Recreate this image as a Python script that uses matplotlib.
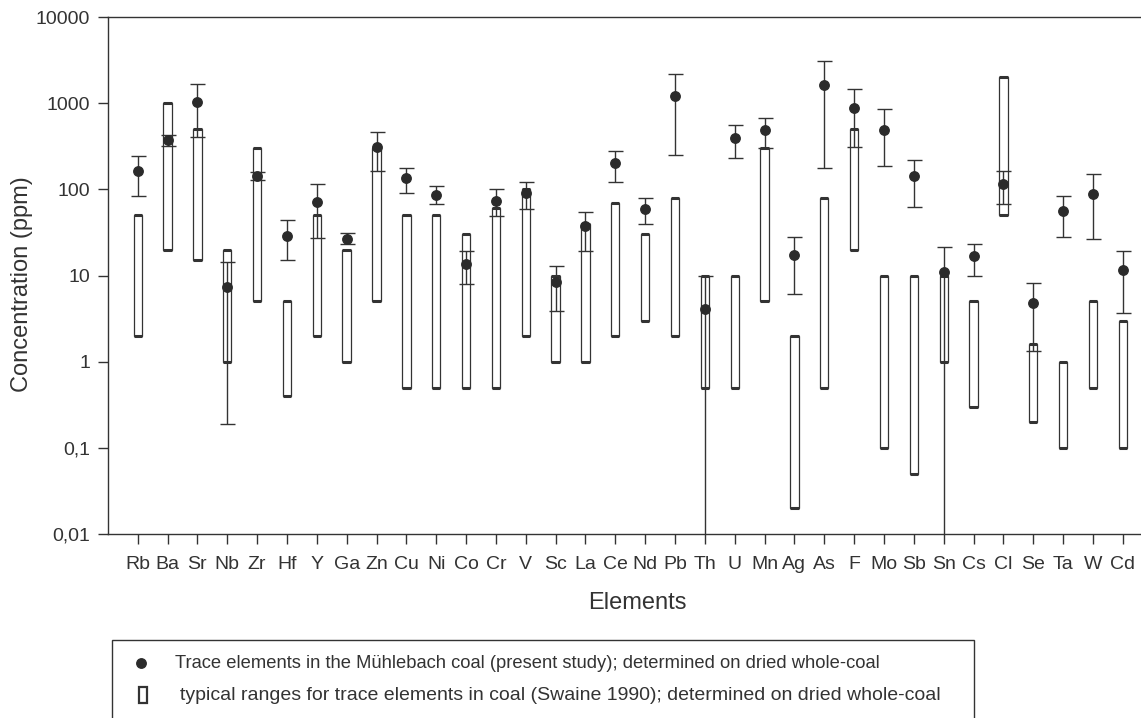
import numpy as np
import matplotlib
matplotlib.use("Agg")
import matplotlib.pyplot as plt
from matplotlib.patches import Rectangle
from matplotlib.lines import Line2D

plt.rcParams['font.family'] = ['Liberation Sans', 'DejaVu Sans']

INK = '#333333'
W, H = 1141, 718

elements = ['Rb', 'Ba', 'Sr', 'Nb', 'Zr', 'Hf', 'Y', 'Ga', 'Zn', 'Cu', 'Ni', 'Co',
            'Cr', 'V', 'Sc', 'La', 'Ce', 'Nd', 'Pb', 'Th', 'U', 'Mn', 'Ag', 'As',
            'F', 'Mo', 'Sb', 'Sn', 'Cs', 'Cl', 'Se', 'Ta', 'W', 'Cd']

# Muehlebach coal (dots) with error range
coal_mean = [163, 374, 1040, 7.4, 144, 29, 71, 26.8, 313, 134, 87, 13.6,
             74, 91, 8.5, 37.5, 204, 59, 1200, 4.1, 398, 489, 17.1, 1640,
             887, 492, 142, 11.1, 16.7, 114, 4.75, 55.6, 89, 11.6]
coal_hi = [244, 427, 1670, 14.5, 160, 44, 116, 31, 467, 178, 109, 19.2,
           100, 122, 12.9, 54.5, 281, 78.7, 2180, 10, 558, 667, 28.2, 3090,
           1460, 848, 219, 21.4, 23, 162, 8.1, 83, 151, 19.4]
coal_lo = [84, 318, 402, 0.19, 128, 15, 27, 23.4, 164, 91, 67, 8.0,
           48.6, 59, 3.9, 19.3, 122, 39.6, 252, 0.001, 233, 300, 6.05, 175,
           310, 187, 63, 0.001, 10, 68, 1.34, 28.2, 26.5, 3.7]

# typical ranges in coal (Swaine 1990)
swaine_lo = [2, 20, 15, 1, 5, 0.4, 2, 1, 5, 0.5, 0.5, 0.5,
             0.5, 2, 1, 1, 2, 3, 2, 0.5, 0.5, 5, 0.02, 0.5,
             20, 0.1, 0.05, 1, 0.3, 50, 0.2, 0.1, 0.5, 0.1]
swaine_hi = [50, 1000, 500, 20, 300, 5, 50, 20, 300, 50, 50, 30,
             60, 100, 10, 40, 70, 30, 80, 10, 10, 300, 2, 80,
             500, 10, 10, 10, 5, 2000, 1.6, 1, 5, 3]

yticks = [0.01, 0.1, 1, 10, 100, 1000, 10000]
ytick_labels = ['0,01', '0,1', '1', '10', '100', '1000', '10000']


def fx(px):
    return px / W


def fy(py):
    return 1 - py / H


x = np.arange(1, len(elements) + 1)
mean = np.array(coal_mean)
lo = np.array(coal_lo)
hi = np.array(coal_hi)
s_lo = np.array(swaine_lo)
s_hi = np.array(swaine_hi)

fig = plt.figure(figsize=(W / 100, H / 100), dpi=100)
ax = fig.add_axes([fx(108), fy(534), fx(1141) - fx(108), fy(17) - fy(534)])

bw = 0.28
ax.bar(x, s_hi - s_lo, bottom=s_lo, width=bw, color='white',
       edgecolor=INK, linewidth=0.9, zorder=2)
ax.hlines(s_hi, x - bw / 2, x + bw / 2, color=INK, linewidth=2.2, zorder=2)
ax.hlines(s_lo, x - bw / 2, x + bw / 2, color=INK, linewidth=2.2, zorder=2)

ax.errorbar(x, mean, yerr=[mean - lo, hi - mean], fmt='none', ecolor=INK,
            elinewidth=1.0, capsize=5.4, capthick=1.0, zorder=3)
ax.plot(x, mean, 'o', color='#2b2b2b', markersize=6.8, zorder=4)

ax.set_yscale('log')
ax.set_ylim(0.01, 10000)
ax.set_xlim(0.005, 34.61)
ax.set_yticks(yticks)
ax.set_yticklabels(ytick_labels)
ax.yaxis.set_minor_locator(matplotlib.ticker.NullLocator())
ax.set_xticks(x)
ax.set_xticklabels(elements)
ax.tick_params(axis='both', direction='out', length=7, width=1.0,
               color=INK, labelcolor=INK, labelsize=14, pad=6)
ax.tick_params(axis='x', pad=9)

for side in ['left', 'bottom', 'top']:
    ax.spines[side].set_color(INK)
    ax.spines[side].set_linewidth(1.0)
ax.spines['right'].set_visible(False)

fig.text(fx(637), fy(603), 'Elements', ha='center', va='center',
         fontsize=17, color=INK)
fig.text(fx(22), fy(284), 'Concentration (ppm)', ha='center', va='center',
         rotation=90, fontsize=17, color=INK)

# legend box, cut by the lower edge of the picture
fig.add_artist(Rectangle((fx(112), fy(760)), fx(974) - fx(112), fy(640) - fy(760),
                         transform=fig.transFigure, facecolor='none',
                         edgecolor=INK, linewidth=1.0))
fig.add_artist(Line2D([fx(141)], [fy(663)], transform=fig.transFigure,
                      marker='o', color='#2b2b2b', markersize=6.8, linestyle='none'))
fig.add_artist(Rectangle((fx(139), fy(703)), fx(147) - fx(139), fy(687) - fy(703),
                         transform=fig.transFigure, facecolor='white',
                         edgecolor=INK, linewidth=1.6))
fig.text(fx(175), fy(663),
         'Trace elements in the Mühlebach coal (present study); determined on dried whole-coal',
         ha='left', va='center', fontsize=13.2, color=INK)
fig.text(fx(180), fy(695),
         'typical ranges for trace elements in coal (Swaine 1990); determined on dried whole-coal',
         ha='left', va='center', fontsize=14.0, color=INK)

fig.savefig('out.png', dpi=100)
